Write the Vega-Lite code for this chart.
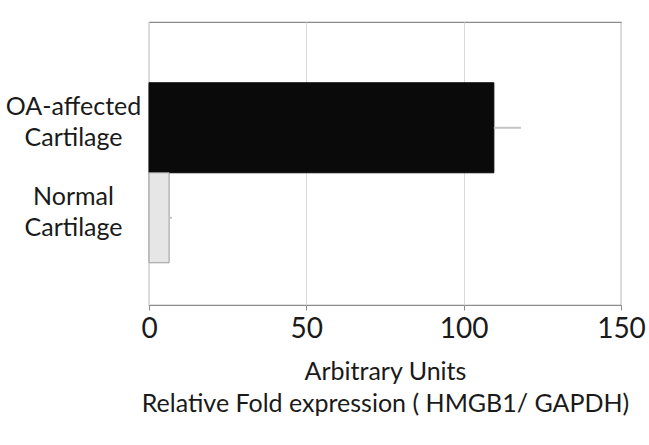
{
  "$schema": "https://vega.github.io/schema/vega-lite/v6.json",
  "width": 472,
  "height": 283,
  "autosize": {"type": "none"},
  "padding": {"left": 149, "top": 22, "right": 28, "bottom": 140},
  "background": "white",
  "config": {
    "font": "Lato",
    "view": {"stroke": "#8c8c8c", "strokeWidth": 1.2}
  },
  "data": {
    "values": [
      {"group": "OA-affected Cartilage", "value": 109.6, "upper": 118.2},
      {"group": "Normal Cartilage", "value": 6.4, "upper": 7.3}
    ]
  },
  "encoding": {
    "y": {
      "field": "group",
      "type": "nominal",
      "sort": ["OA-affected Cartilage", "Normal Cartilage"],
      "scale": {"paddingInner": 0, "paddingOuter": 0.572, "align": 0.59},
      "axis": {
        "title": null,
        "domain": false,
        "ticks": false,
        "labelExpr": "split(datum.label, ' ')",
        "labelAlign": "center",
        "labelPadding": 76,
        "labelOffset": -21,
        "labelFontSize": 25,
        "labelLineHeight": 31,
        "labelColor": "#1a1a1a",
        "labelFont": "Lato"
      }
    },
    "x": {
      "field": "value",
      "type": "quantitative",
      "scale": {"domain": [0, 150], "nice": false, "zero": true},
      "axis": {
        "values": [0, 50, 100, 150],
        "grid": true,
        "gridColor": "#d9d9d9",
        "gridWidth": 1,
        "domain": false,
        "tickSize": 5,
        "tickColor": "#8c8c8c",
        "labelPadding": 5,
        "labelFontSize": 28,
        "labelColor": "#1a1a1a",
        "labelFlush": false,
        "title": ["Arbitrary Units", "Relative Fold expression ( HMGB1/ GAPDH)"],
        "titleFontSize": 25,
        "titleFontWeight": "normal",
        "titleColor": "#1a1a1a",
        "titleLineHeight": 32,
        "titlePadding": 16
      }
    }
  },
  "layer": [
    {
      "mark": {"type": "bar", "strokeWidth": 1},
      "encoding": {
        "color": {
          "field": "group",
          "type": "nominal",
          "scale": {"domain": ["OA-affected Cartilage", "Normal Cartilage"], "range": ["#0a0a0a", "#e6e6e6"]},
          "legend": null
        },
        "stroke": {
          "field": "group",
          "type": "nominal",
          "scale": {"domain": ["OA-affected Cartilage", "Normal Cartilage"], "range": ["#0a0a0a", "#9a9a9a"]},
          "legend": null
        }
      }
    },
    {
      "mark": {"type": "rule", "color": "#c4c4c4", "strokeWidth": 2},
      "encoding": {
        "x2": {"field": "upper"}
      }
    }
  ]
}
